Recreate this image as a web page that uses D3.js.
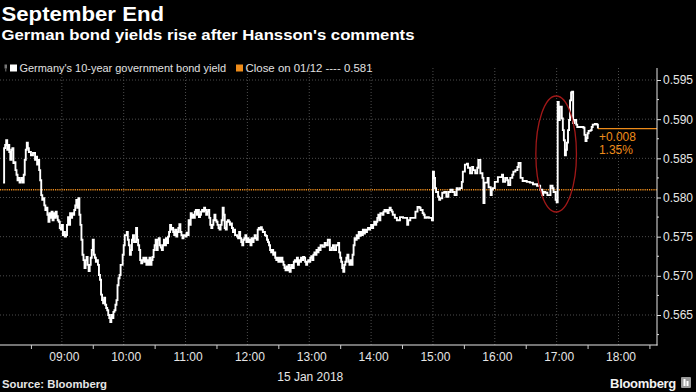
<!DOCTYPE html>
<html><head><meta charset="utf-8">
<script src="https://cdn.jsdelivr.net/npm/d3@7/dist/d3.min.js"></script>
<style>
html,body{margin:0;padding:0;background:#000;}
svg{display:block;}
text{font-family:"Liberation Sans",Arial,sans-serif;}
</style></head><body>
<svg id="c" width="696" height="392"></svg>
<script>
// ---- data ----
const times = [
"08:03","08:04","08:05","08:06","08:07","08:08","08:09","08:10","08:11","08:12","08:13","08:14","08:15","08:16","08:17","08:18","08:19","08:20","08:21","08:22","08:23","08:24","08:25","08:26","08:27","08:28","08:30","08:32","08:34","08:35","08:36","08:37","08:38","08:39","08:40","08:41","08:42","08:43","08:44","08:45","08:46","08:47","08:48","08:49","08:50","08:51","08:52","08:53","08:54","08:55","08:56","08:57","08:58","08:59",
"09:00","09:01","09:02","09:03","09:04","09:05","09:06","09:07","09:08","09:09","09:10","09:11","09:12","09:13","09:14","09:15","09:16","09:17","09:18","09:19","09:20","09:21","09:22","09:23","09:24","09:25","09:26","09:27","09:28","09:29","09:30","09:31","09:32","09:33","09:34","09:35","09:36","09:37","09:38","09:39","09:40","09:41","09:42","09:43","09:44","09:45","09:46","09:47","09:48","09:49","09:50","09:51","09:52","09:53","09:54","09:55","09:56","09:57","09:59",
"10:00","10:01","10:03","10:04","10:05","10:06","10:07","10:08","10:09","10:10","10:12","10:13","10:14","10:15","10:16","10:17","10:18","10:19","10:20","10:21","10:22","10:23","10:24","10:25","10:26","10:27","10:28","10:29","10:30","10:31","10:32","10:33","10:34","10:35","10:36","10:37","10:38","10:39","10:40","10:41","10:42","10:43","10:44","10:45","10:46","10:47","10:48","10:49","10:50","10:51","10:52","10:53","10:54","10:55","10:56","10:57","10:58",
"11:00","11:01","11:02","11:03","11:04","11:05","11:06","11:07","11:08","11:09","11:10","11:11","11:12","11:13","11:14","11:15","11:16","11:17","11:18","11:19","11:20","11:21","11:22","11:23","11:24","11:25","11:26","11:27","11:28","11:29","11:30","11:31","11:32","11:33","11:34","11:35","11:36","11:37","11:38","11:39","11:40","11:41","11:42","11:43","11:44","11:45","11:46","11:47","11:48","11:49","11:50","11:51","11:52","11:53","11:54","11:55","11:56","11:57","11:58","11:59",
"12:00","12:01","12:02","12:03","12:04","12:05","12:06","12:07","12:08","12:09","12:10","12:11","12:12","12:13","12:14","12:15","12:17","12:18","12:19","12:20","12:21","12:22","12:23","12:24","12:25","12:26","12:27","12:28","12:29","12:30","12:31","12:32","12:33","12:34","12:35","12:36","12:37","12:38","12:39","12:40","12:41","12:42","12:43","12:44","12:45","12:46","12:47","12:48","12:49","12:50","12:51","12:52","12:53","12:54","12:55","12:56","12:57","12:58","12:59",
"13:00","13:01","13:02","13:03","13:04","13:05","13:06","13:07","13:08","13:09","13:10","13:11","13:13","13:15","13:16","13:18","13:20","13:22","13:23","13:24","13:26","13:28","13:29","13:30","13:31","13:32","13:33","13:34","13:35","13:36","13:37","13:38","13:39","13:40","13:41","13:42","13:43","13:44","13:45","13:46","13:47","13:48","13:49","13:50","13:51","13:52","13:53","13:54","13:55","13:56","13:57","13:58","13:59",
"14:00","14:01","14:02","14:03","14:04","14:05","14:06","14:07","14:08","14:09","14:10","14:11","14:12","14:13","14:14","14:15","14:16","14:17","14:18","14:19","14:20","14:21","14:23","14:25","14:28","14:31","14:34","14:35","14:36","14:38","14:41","14:43","14:45","14:47","14:48","14:50","14:51","14:52","14:54","14:56","14:57","14:59",
"15:00","15:01","15:02","15:03","15:05","15:06","15:07","15:09","15:11","15:13","15:15","15:17","15:19","15:21","15:23","15:24","15:26","15:28","15:29","15:31","15:33","15:34","15:36","15:38","15:39","15:41","15:43","15:44","15:46","15:48","15:49","15:50","15:53","15:54","15:56","15:57","15:58",
"16:00","16:03","16:05","16:07","16:08","16:10","16:12","16:13","16:15","16:17","16:18","16:20","16:22","16:23","16:25","16:27","16:31","16:34","16:37","16:41","16:44","16:46","16:47","16:49","16:51","16:54","16:56","16:57","16:59",
"17:00","17:01","17:02","17:03","17:05","17:06","17:07","17:08","17:09","17:10","17:11","17:12","17:13","17:14","17:15","17:16","17:17","17:19","17:20","17:23","17:26","17:27","17:28","17:29","17:30","17:31","17:33","17:34","17:35","17:37","17:39","17:40"
];
const yields = [
0.5819,0.5863,0.5867,0.5873,0.5861,0.5867,0.5858,0.5848,0.5861,0.5863,0.5844,0.5845,0.5835,0.5829,0.5822,0.5825,0.5819,0.5822,0.5825,0.5819,0.5829,0.5848,0.5861,0.5870,0.5863,0.5858,0.5854,0.5857,0.5848,0.5852,0.5842,0.5848,0.5835,0.5822,0.5803,0.5797,0.5799,0.5790,0.5784,0.5787,0.5778,0.5769,0.5780,0.5774,0.5782,0.5771,0.5780,0.5774,0.5782,0.5776,0.5771,0.5769,0.5761,0.5759,
0.5765,0.5752,0.5756,0.5750,0.5752,0.5765,0.5775,0.5765,0.5780,0.5774,0.5780,0.5778,0.5784,0.5790,0.5797,0.5787,0.5799,0.5778,0.5765,0.5746,0.5727,0.5720,0.5710,0.5720,0.5724,0.5714,0.5706,0.5714,0.5723,0.5733,0.5746,0.5727,0.5723,0.5718,0.5720,0.5714,0.5701,0.5695,0.5676,0.5669,0.5665,0.5672,0.5663,0.5659,0.5656,0.5650,0.5646,0.5641,0.5650,0.5646,0.5654,0.5656,0.5663,0.5669,0.5688,0.5697,0.5701,0.5714,0.5727,
0.5739,0.5752,0.5756,0.5746,0.5739,0.5727,0.5733,0.5746,0.5752,0.5743,0.5761,0.5746,0.5739,0.5733,0.5720,0.5716,0.5720,0.5723,0.5718,0.5723,0.5714,0.5720,0.5714,0.5723,0.5714,0.5720,0.5724,0.5733,0.5739,0.5746,0.5733,0.5746,0.5748,0.5739,0.5736,0.5733,0.5739,0.5746,0.5739,0.5748,0.5742,0.5750,0.5756,0.5765,0.5759,0.5761,0.5756,0.5752,0.5759,0.5750,0.5756,0.5761,0.5766,0.5756,0.5752,0.5748,0.5752,
0.5750,0.5755,0.5752,0.5771,0.5765,0.5780,0.5774,0.5778,0.5774,0.5782,0.5784,0.5778,0.5784,0.5775,0.5778,0.5782,0.5784,0.5782,0.5787,0.5784,0.5778,0.5782,0.5784,0.5774,0.5765,0.5761,0.5765,0.5771,0.5778,0.5771,0.5769,0.5765,0.5761,0.5759,0.5765,0.5771,0.5787,0.5778,0.5761,0.5759,0.5769,0.5771,0.5769,0.5765,0.5767,0.5761,0.5756,0.5759,0.5752,0.5752,0.5750,0.5748,0.5756,0.5748,0.5743,0.5739,0.5746,0.5748,0.5752,0.5743,
0.5748,0.5743,0.5746,0.5739,0.5748,0.5743,0.5748,0.5752,0.5748,0.5746,0.5759,0.5761,0.5759,0.5762,0.5759,0.5756,0.5752,0.5751,0.5746,0.5743,0.5739,0.5733,0.5730,0.5733,0.5727,0.5730,0.5723,0.5720,0.5723,0.5718,0.5723,0.5718,0.5723,0.5718,0.5714,0.5710,0.5707,0.5712,0.5707,0.5714,0.5705,0.5710,0.5714,0.5710,0.5718,0.5720,0.5718,0.5723,0.5714,0.5720,0.5718,0.5723,0.5720,0.5724,0.5723,0.5718,0.5714,0.5718,0.5720,
0.5718,0.5723,0.5725,0.5720,0.5727,0.5730,0.5727,0.5733,0.5730,0.5736,0.5733,0.5739,0.5737,0.5742,0.5739,0.5746,0.5733,0.5736,0.5739,0.5733,0.5739,0.5742,0.5730,0.5723,0.5718,0.5710,0.5705,0.5714,0.5718,0.5723,0.5727,0.5718,0.5714,0.5720,0.5714,0.5727,0.5739,0.5748,0.5746,0.5752,0.5748,0.5756,0.5751,0.5756,0.5752,0.5759,0.5754,0.5759,0.5756,0.5759,0.5761,0.5759,0.5761,
0.5765,0.5761,0.5765,0.5769,0.5765,0.5769,0.5774,0.5778,0.5771,0.5780,0.5780,0.5778,0.5782,0.5784,0.5782,0.5784,0.5780,0.5784,0.5787,0.5784,0.5782,0.5778,0.5774,0.5771,0.5775,0.5774,0.5774,0.5765,0.5771,0.5774,0.5774,0.5782,0.5788,0.5787,0.5784,0.5780,0.5778,0.5774,0.5775,0.5774,0.5774,0.5771,
0.5833,0.5825,0.5812,0.5807,0.5801,0.5797,0.5799,0.5806,0.5807,0.5801,0.5807,0.5810,0.5807,0.5803,0.5812,0.5810,0.5812,0.5820,0.5833,0.5842,0.5843,0.5838,0.5831,0.5839,0.5835,0.5831,0.5838,0.5848,0.5831,0.5825,0.5793,0.5819,0.5825,0.5813,0.5803,0.5810,0.5812,
0.5820,0.5826,0.5826,0.5829,0.5820,0.5825,0.5822,0.5816,0.5825,0.5829,0.5833,0.5835,0.5839,0.5844,0.5825,0.5821,0.5820,0.5819,0.5817,0.5815,0.5810,0.5803,0.5807,0.5806,0.5803,0.5815,0.5812,0.5807,0.5797,
0.5794,0.5922,0.5899,0.5916,0.5901,0.5886,0.5873,0.5854,0.5861,0.5870,0.5886,0.5899,0.5924,0.5934,0.5935,0.5895,0.5899,0.5893,0.5890,0.5890,0.5889,0.5880,0.5872,0.5876,0.5882,0.5885,0.5886,0.5890,0.5893,0.5894,0.5893,0.5888
];
const prevClose = 0.581;
const yTickValues = [0.565, 0.570, 0.575, 0.580, 0.585, 0.590, 0.595];
const hourLabels = ["09:00","10:00","11:00","12:00","13:00","14:00","15:00","16:00","17:00","18:00"];
const halfHourTicks = ["08:30","09:30","10:30","11:30","12:30","13:30","14:30","15:30","16:30","17:30","18:30"];
const dateLabel = "15 Jan 2018";
const titleText = "September End";
const subtitleText = "German bond yields rise after Hansson's comments";
const legendSeries = "Germany's 10-year government bond yield";
const legendClose = "Close on 01/12 ---- 0.581";
const changeLabel = "+0.008";
const pctLabel = "1.35%";
const sourceText = "Source: Bloomberg";

// ---- drawing ----
const W = 696, H = 392;
const ORANGE = "#ee8c1a";
const svg = d3.select("#c");
svg.append("rect").attr("width", W).attr("height", H).attr("fill", "#000");

const parse = d3.timeParse("%Y-%m-%d %H:%M");
const day = "2018-01-15 ";
const T = s => parse(day + s);
const data = times.map((t, i) => ({ t: T(t), v: yields[i] }));

const plotL = 0, plotR = 657, plotT = 68, plotB = 345;
const x = d3.scaleTime().domain([T("08:00"), T("18:00")]).range([0, 618.5]);
const y = d3.scaleLinear().domain([0.565, 0.595]).range([315, 80]);

// grid
const grid = svg.append("g");
grid.selectAll("line.h").data(yTickValues).join("line")
  .attr("x1", plotL).attr("x2", plotR)
  .attr("y1", d => y(d)).attr("y2", d => y(d))
  .attr("stroke", "#4d4d4d").attr("stroke-width", 1).attr("stroke-dasharray", "1,2");
grid.selectAll("line.v").data(hourLabels).join("line")
  .attr("x1", d => x(T(d))).attr("x2", d => x(T(d)))
  .attr("y1", plotT).attr("y2", plotB)
  .attr("stroke", "#4d4d4d").attr("stroke-width", 1).attr("stroke-dasharray", "1,2");

// previous close dotted line
svg.append("line")
  .attr("x1", plotL).attr("x2", plotR)
  .attr("y1", y(prevClose)).attr("y2", y(prevClose))
  .attr("stroke", ORANGE).attr("stroke-width", 1.5).attr("stroke-dasharray", "1.2,1");

// last value line
const last = data[data.length - 1];
svg.append("line")
  .attr("x1", x(last.t)).attr("x2", plotR)
  .attr("y1", y(last.v)).attr("y2", y(last.v))
  .attr("stroke", ORANGE).attr("stroke-width", 1.2);

// series
const line = d3.line().x(d => x(d.t)).y(d => y(d.v)).curve(d3.curveStepAfter);
svg.append("path").datum(data)
  .attr("d", line).attr("fill", "none")
  .attr("stroke", "#fff").attr("stroke-width", 1.9)
  .attr("stroke-linejoin", "miter");

// red ellipse
svg.append("ellipse")
  .attr("cx", x(T("17:00")) - 0.5).attr("cy", 154)
  .attr("rx", 20.3).attr("ry", 58)
  .attr("fill", "none").attr("stroke", "#a01818").attr("stroke-width", 1.3);

// annotation
svg.append("text").attr("x", x(last.t) + 1).attr("y", 140.5)
  .attr("fill", ORANGE).attr("font-size", 12).text(changeLabel);
svg.append("text").attr("x", x(last.t) + 1).attr("y", 153.5)
  .attr("fill", ORANGE).attr("font-size", 12).text(pctLabel);

// right axis
const yAxis = d3.axisRight(y).tickValues(yTickValues).tickSize(4).tickPadding(2)
  .tickFormat(d3.format(".3f"));
const ya = svg.append("g").attr("transform", `translate(${plotR},0)`).call(yAxis);
ya.select(".domain").remove();
ya.selectAll(".tick line").attr("stroke", "#ddd");
ya.selectAll(".tick text").attr("fill", "#e6e6e6").attr("font-size", 12)
  .attr("font-family", "Liberation Sans, Arial, sans-serif");
const minorY = d3.range(0.5625, 0.5966, 0.005);
ya.selectAll("line.minor").data(minorY).join("line")
  .attr("x1", 0).attr("x2", 2).attr("y1", d => y(d)).attr("y2", d => y(d))
  .attr("stroke", "#ddd");
svg.append("line").attr("x1", plotR).attr("x2", plotR).attr("y1", plotT).attr("y2", plotB + 0.5)
  .attr("stroke", "#e6e6e6").attr("stroke-width", 1);

// bottom axis
svg.append("line").attr("x1", plotL).attr("x2", plotR + 0.5).attr("y1", plotB).attr("y2", plotB)
  .attr("stroke", "#e6e6e6").attr("stroke-width", 1);
const xMinor = d3.axisBottom(x).tickValues(halfHourTicks.map(T)).tickSize(4).tickFormat("");
const xm = svg.append("g").attr("transform", `translate(0,${plotB})`).call(xMinor);
xm.select(".domain").remove();
xm.selectAll(".tick line").attr("stroke", "#ccc");
const xAxis = d3.axisBottom(x).tickValues(hourLabels.map(T)).tickSize(0).tickPadding(7)
  .tickFormat(d3.timeFormat("%H:%M"));
const xa = svg.append("g").attr("transform", `translate(2,${plotB})`).call(xAxis);
xa.select(".domain").remove();
xa.selectAll(".tick text").attr("fill", "#e6e6e6").attr("font-size", 12)
  .attr("font-family", "Liberation Sans, Arial, sans-serif");
svg.append("text").attr("x", x(T("13:00")) + 1).attr("y", 380.5)
  .attr("text-anchor", "middle").attr("fill", "#e6e6e6").attr("font-size", 12).text(dateLabel);

// titles
svg.append("text").attr("x", 1.5).attr("y", 20.7).attr("fill", "#fff")
  .attr("font-size", 21).attr("font-weight", "bold")
  .attr("textLength", 162.5).attr("lengthAdjust", "spacingAndGlyphs").text(titleText);
svg.append("text").attr("x", 1.5).attr("y", 40.3).attr("fill", "#fff")
  .attr("font-size", 15).attr("font-weight", "bold")
  .attr("textLength", 413).attr("lengthAdjust", "spacingAndGlyphs").text(subtitleText);

// legend
svg.append("rect").attr("x", 4.5).attr("y", 64.5).attr("width", 2.5).attr("height", 4).attr("fill", "#777");
svg.append("rect").attr("x", 5.3).attr("y", 68.5).attr("width", 1).attr("height", 3).attr("fill", "#777");
svg.append("rect").attr("x", 10).attr("y", 64.5).attr("width", 7).attr("height", 7).attr("fill", "#fff");
svg.append("text").attr("x", 19.5).attr("y", 71.5).attr("fill", "#e0e0e0").attr("font-size", 11)
  .attr("textLength", 206.5).attr("lengthAdjust", "spacingAndGlyphs").text(legendSeries);
svg.append("rect").attr("x", 236).attr("y", 64.5).attr("width", 7).attr("height", 7).attr("fill", ORANGE);
svg.append("text").attr("x", 245.5).attr("y", 71.5).attr("fill", "#e0e0e0").attr("font-size", 11)
  .attr("textLength", 127).attr("lengthAdjust", "spacingAndGlyphs").text(legendClose);

// footer
svg.append("text").attr("x", 2).attr("y", 387.5).attr("fill", "#e6e6e6")
  .attr("font-size", 10.5).attr("font-weight", "bold")
  .attr("textLength", 105).attr("lengthAdjust", "spacingAndGlyphs").text(sourceText);
svg.append("text").attr("x", 676).attr("y", 387.5).attr("text-anchor", "end").attr("fill", "#f2f2f2")
  .attr("font-size", 13).attr("font-weight", "bold").attr("letter-spacing", -0.3).text("Bloomberg");
svg.append("rect").attr("x", 681).attr("y", 377).attr("width", 10).attr("height", 11).attr("rx", 1).attr("fill", "#9a9a9a");
svg.append("rect").attr("x", 683.5).attr("y", 379).attr("width", 2).attr("height", 7).attr("fill", "#fff");
svg.append("rect").attr("x", 686.5).attr("y", 381).attr("width", 2).attr("height", 5).attr("fill", "#fff");
</script>
</body></html>
